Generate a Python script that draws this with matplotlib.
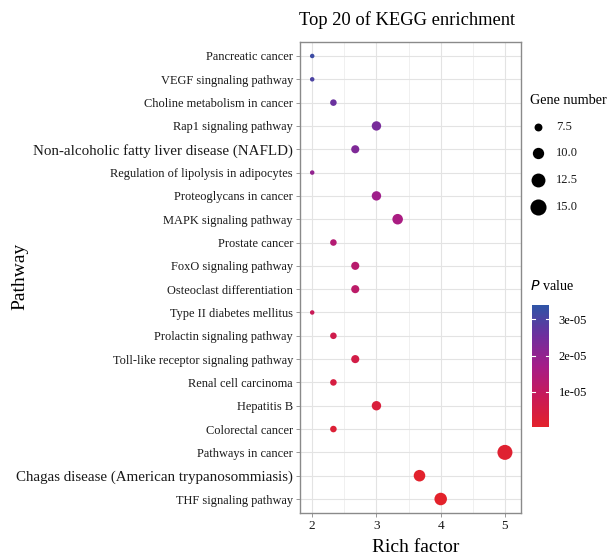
import numpy as np
import matplotlib
matplotlib.use("Agg")
import matplotlib.pyplot as plt
from matplotlib.colors import LinearSegmentedColormap, Normalize

plt.rcParams['font.family'] = ['Liberation Serif', 'DejaVu Serif']

pathways = [
    "Pancreatic cancer",
    "VEGF singnaling pathway",
    "Choline metabolism in cancer",
    "Rap1 signaling pathway",
    "Non-alcoholic fatty liver disease (NAFLD)",
    "Regulation of lipolysis in adipocytes",
    "Proteoglycans in cancer",
    "MAPK signaling pathway",
    "Prostate cancer",
    "FoxO signaling pathway",
    "Osteoclast differentiation",
    "Type II diabetes mellitus",
    "Prolactin signaling pathway",
    "Toll-like receptor signaling pathway",
    "Renal cell carcinoma",
    "Hepatitis B",
    "Colorectal cancer",
    "Pathways in cancer",
    "Chagas disease (American trypanosommiasis)",
    "THF signaling pathway",
]
rich_factor = [2.0, 2.0, 2.33, 3.0, 2.67, 2.0, 3.0, 3.33, 2.33, 2.67,
               2.67, 2.0, 2.33, 2.67, 2.33, 3.0, 2.33, 5.0, 3.67, 4.0]
gene_number = [6, 6, 7, 9, 8, 6, 9, 10, 7, 8,
               8, 6, 7, 8, 7, 9, 7, 15, 11, 12]
p_value = [3.2e-05, 3.0e-05, 2.6e-05, 2.4e-05, 2.3e-05, 2.0e-05, 1.8e-05, 1.6e-05,
           1.35e-05, 1.25e-05, 1.15e-05, 8.5e-06, 6.5e-06, 5.5e-06, 4.5e-06,
           3.5e-06, 2.5e-06, 1.5e-06, 8e-07, 4e-07]
large_labels = ["Non-alcoholic fatty liver disease (NAFLD)",
                "Chagas disease (American trypanosommiasis)"]
legend_genes = [7.5, 10.0, 12.5, 15.0]
cbar_ticks = [1e-05, 2e-05, 3e-05]
cbar_ticklabels = ["1e-05", "2e-05", "3e-05"]

cmap = LinearSegmentedColormap.from_list(
    "rb", ["#E3222B", "#C81A58", "#A51C88", "#6E2F9E", "#2E55A6"])
norm = Normalize(vmin=3e-07, vmax=3.4e-05)

gmin, gmax = 6.0, 15.0
dmin, dmax = 4.5, 15.0  # px diameters


def size_of(g):
    g = np.asarray(g, dtype=float)
    area = dmin**2 + (dmax**2 - dmin**2) * (g - gmin) / (gmax - gmin)
    d_pt = np.sqrt(area) * 72 / 100.0
    return d_pt**2


fig = plt.figure(figsize=(6.11, 5.57), dpi=100)
W, H = 611, 557
ax = fig.add_axes([300 / W, 1 - 513 / H, 221 / W, 471 / H])

ypos = np.arange(len(pathways))
ax.scatter(rich_factor, ypos, s=size_of(gene_number), c=p_value, cmap=cmap,
           norm=norm, zorder=3, linewidths=0)

ax.set_ylim(len(pathways) - 0.4, -0.6)
ax.set_xlim(1.81, 5.25)
ax.set_yticks(ypos)
ax.set_yticklabels(pathways)
for lab in ax.get_yticklabels():
    lab.set_color('#1a1a1a')
    if lab.get_text() in large_labels:
        lab.set_fontsize(10.8)
    else:
        lab.set_fontsize(8.9)
ax.set_xticks([2, 3, 4, 5])
ax.set_xticklabels(["2", "3", "4", "5"], fontsize=9.5, color='#1a1a1a')
ax.set_xticks([2.5, 3.5, 4.5], minor=True)
ax.tick_params(axis='both', which='major', length=3, color='#888888', width=0.6, pad=2)
ax.tick_params(axis='x', which='minor', length=0)
ax.grid(True, which='major', color='#E3E3E3', linewidth=0.8, zorder=0)
ax.grid(True, which='minor', axis='x', color='#EEEEEE', linewidth=0.6, zorder=0)
ax.set_axisbelow(True)
for sp in ax.spines.values():
    sp.set_color('#8A8A8A')
    sp.set_linewidth(1.0)

fig.text(407 / W, 1 - 20 / H, "Top 20 of KEGG enrichment", ha='center', va='center', fontsize=13.3)
fig.text(416 / W, 1 - 547 / H, "Rich factor", ha='center', va='center', fontsize=14)
fig.text(20 / W, 1 - 276 / H, "Pathway", ha='center', va='center', rotation=90, fontsize=14)

# size legend
fig.text(530 / W, 1 - 101 / H, "Gene number", ha='left', va='center', fontsize=10.2)
legend_y = [127, 153, 180, 207]
lax = fig.add_axes([0, 0, 1, 1], facecolor='none')
lax.set_xlim(0, W)
lax.set_ylim(H, 0)
lax.axis('off')
for g, yy in zip(legend_genes, legend_y):
    lax.scatter([538], [yy], s=size_of(g) * 1.15, color='black', linewidths=0)
    lax.text(556, yy, f"{g:.1f}", ha='left', va='center', fontsize=9, color='#1a1a1a')

# colorbar
fig.text(530 / W, 1 - 286 / H, r"$\it{P}$ value", ha='left', va='center', fontsize=10.2)
cax = fig.add_axes([532 / W, 1 - 427 / H, 17 / W, 122 / H])
cb = fig.colorbar(plt.cm.ScalarMappable(norm=norm, cmap=cmap), cax=cax)
cb.outline.set_visible(False)
cb.set_ticks(cbar_ticks)
cb.set_ticklabels(cbar_ticklabels)
cax.tick_params(axis='y', length=0, labelsize=9, pad=7)
for t in cbar_ticks:
    cax.plot([0, 0.2], [t, t], color='white', lw=0.8, transform=cax.get_yaxis_transform())
    cax.plot([0.8, 1.0], [t, t], color='white', lw=0.8, transform=cax.get_yaxis_transform())

fig.savefig("out.png", dpi=100)
